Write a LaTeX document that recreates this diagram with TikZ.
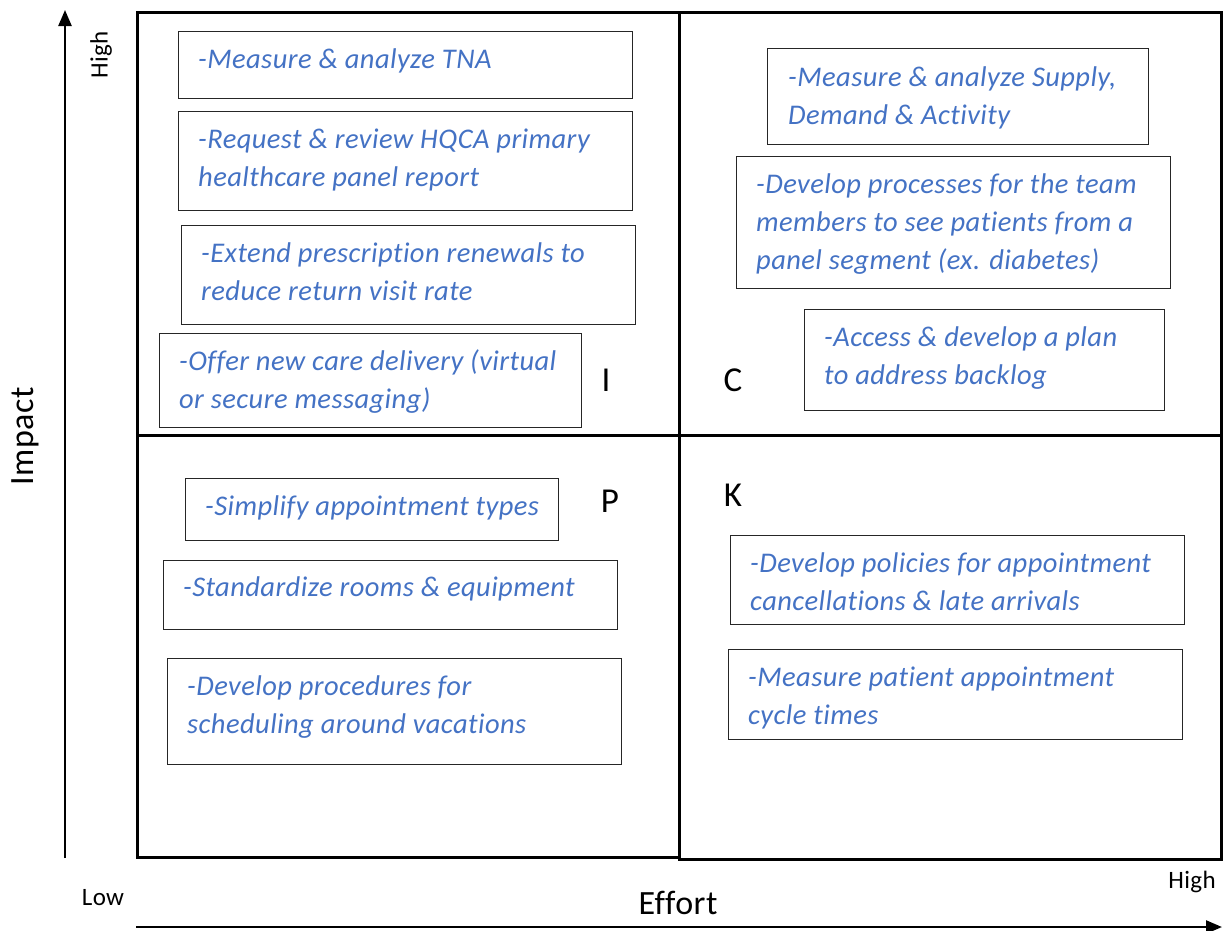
\documentclass[tikz,border=0pt]{standalone}
\usepackage{fontspec}
\setmainfont{Carlito}[LetterSpace=1.5,Ligatures=NoCommon]
\usetikzlibrary{arrows.meta,calc}
\definecolor{txtblue}{HTML}{4472C4}
\begin{document}
\begin{tikzpicture}[x=1pt,y=-1pt,
  quad/.style={draw=black,line width=2.8pt,anchor=north west,inner sep=0pt},
  box/.style={draw=black!85,line width=1.4pt,anchor=north west,inner sep=0pt},
  txt/.style={anchor=north west,inner sep=0pt,align=left,text=txtblue,font=\fontsize{28.5}{38}\selectfont\itshape},
  letter/.style={inner sep=0pt,font=\fontsize{35}{40}\selectfont},
  axislab/.style={inner sep=0pt,font=\fontsize{34}{40}\selectfont},
  small/.style={inner sep=0pt,font=\fontsize{25}{30}\selectfont},
  axis/.style={line width=2.4pt,-{Triangle[length=16pt,width=13pt]}}]
\useasboundingbox (0,0) rectangle (1225,930);
% quadrants
\node[quad,minimum width=542pt,minimum height=423pt] (q1) at (136,11) {};
\node[quad,minimum width=542pt,minimum height=423pt] (q2) at (678,11) {};
\node[quad,minimum width=542pt,minimum height=422pt] (q3) at (136,434) {};
\node[quad,minimum width=542pt,minimum height=424pt] (q4) at (678,434) {};
% axes
\coordinate (vs) at (65,858);
\coordinate (ve) at (65,10);
\coordinate (hs) at (136,927);
\coordinate (he) at (1222,927);
\draw[axis] (vs) -- (ve);
\draw[axis] (hs) -- (he);
\node[small,rotate=90] (hi1) at (101,55) {High};
\node[axislab,rotate=90] (imp) at (25,436) {Impact};
\node[small] (low) at (103,898) {Low};
\node[axislab] (eff) at (678,903) {Effort};
\node[small] (hi2) at (1192,882) {High};
% letters
\node[letter] (lI) at (606,380) {I};
\node[letter] (lC) at (733,380) {C};
\node[letter] (lP) at (610,501) {P};
\node[letter] (lK) at (733,495) {K};
% boxes
\node[box,minimum width=454pt,minimum height=67pt] (b1) at (178,31) {};
\node[txt] at ($(b1.north west)+(20,11)$) {\strut-Measure \& analyze TNA};
\node[box,minimum width=454pt,minimum height=99pt] (b2) at (178,111) {};
\node[txt] at ($(b2.north west)+(20,11)$) {\strut-Request \& review HQCA primary\\\strut healthcare panel report};
\node[box,minimum width=454pt,minimum height=99pt] (b3) at (181,225) {};
\node[txt] at ($(b3.north west)+(20,11)$) {\strut-Extend prescription renewals to\\\strut reduce return visit rate};
\node[box,minimum width=422pt,minimum height=94pt] (b4) at (159,333) {};
\node[txt] at ($(b4.north west)+(20,11)$) {\strut-Offer new care delivery (virtual\\\strut or secure messaging)};
\node[box,minimum width=381pt,minimum height=96pt] (b5) at (767,48) {};
\node[txt] at ($(b5.north west)+(21,12)$) {\strut-Measure \& analyze Supply,\\\strut Demand \& Activity};
\node[box,minimum width=434pt,minimum height=132pt] (b6) at (736,156) {};
\node[txt] at ($(b6.north west)+(20,11)$) {\strut-Develop processes for the team\\\strut members to see patients from a\\\strut panel segment (ex. diabetes)};
\node[box,minimum width=360pt,minimum height=101pt] (b7) at (804,309) {};
\node[txt] at ($(b7.north west)+(20,11)$) {\strut-Access \& develop a plan\\\strut to address backlog};
\node[box,minimum width=373pt,minimum height=62pt] (b8) at (185,478) {};
\node[txt] at ($(b8.north west)+(20,11)$) {\strut-Simplify appointment types};
\node[box,minimum width=454pt,minimum height=69pt] (b9) at (163,560) {};
\node[txt] at ($(b9.north west)+(20,10)$) {\strut-Standardize rooms \& equipment};
\node[box,minimum width=454pt,minimum height=106pt] (b10) at (167,658) {};
\node[txt] at ($(b10.north west)+(20,11)$) {\strut-Develop procedures for\\\strut scheduling around vacations};
\node[box,minimum width=454pt,minimum height=89pt] (b11) at (730,535) {};
\node[txt] at ($(b11.north west)+(20,11)$) {\strut-Develop policies for appointment\\\strut cancellations \& late arrivals};
\node[box,minimum width=454pt,minimum height=90pt] (b12) at (728,649) {};
\node[txt] at ($(b12.north west)+(20,11)$) {\strut-Measure patient appointment\\\strut cycle times};
\end{tikzpicture}
\end{document}
